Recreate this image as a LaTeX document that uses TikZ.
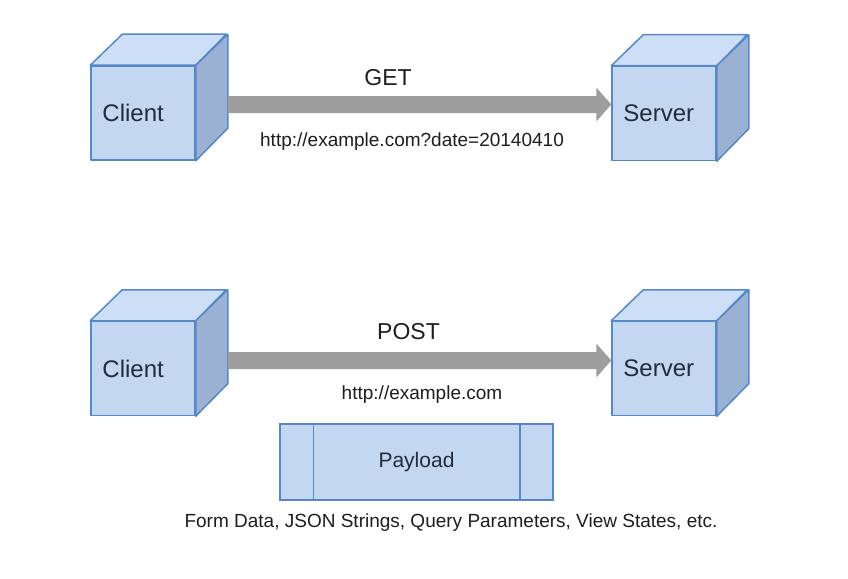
\documentclass[tikz,border=0pt]{standalone}
\usepackage{fontspec}
\setmainfont{Liberation Sans}
\usetikzlibrary{calc}
\definecolor{cubefront}{RGB}{195,215,241}
\definecolor{cubetop}{RGB}{205,223,246}
\definecolor{cubeside}{RGB}{155,177,212}
\definecolor{cubeborder}{RGB}{86,136,200}
\definecolor{arrowgray}{RGB}{158,158,158}
\definecolor{labeltext}{RGB}{35,42,58}
\definecolor{plaintext}{RGB}{30,30,30}
\tikzset{
  frontface/.style={draw=cubeborder, fill=cubefront, line width=1.5pt, line join=round,
    minimum width=104pt, minimum height=94pt, inner sep=0pt},
  topface/.style={draw=cubeborder, fill=cubetop, line width=1.5pt, line join=round},
  sideface/.style={draw=cubeborder, fill=cubeside, line width=1.5pt, line join=round},
  cubelabel/.style={text=labeltext, font=\fontsize{24}{28}\selectfont, inner sep=0pt, anchor=west},
  methodlabel/.style={text=plaintext, font=\fontsize{23}{27}\selectfont, inner sep=0pt},
  urllabel/.style={text=plaintext, font=\fontsize{19}{23}\selectfont, inner sep=0pt},
  arrowfill/.style={fill=arrowgray},
  payloadbox/.style={draw=cubeborder, fill=cubefront, line width=1.5pt,
    minimum width=273pt, minimum height=76pt, inner sep=0pt},
}
\newcommand\drawcube[3]{%
  \node[frontface] (#1) at (#2) {};
  \filldraw[topface] (#1.north west) -- ++(32,-31) -- ++(104,0) -- (#1.north east) -- cycle;
  \filldraw[sideface] (#1.north east) -- ++(32,-31) -- ++(0,94) -- (#1.south east) -- cycle;
  \node[cubelabel] (#1-t) at ([xshift=12pt]#1.west) {#3};
}
\newcommand\fatarrow[2]{%
  \fill[arrowfill] ($(#1)+(0,-8.5)$) -- ($(#2)+(-15,-8.5)$) -- ($(#2)+(-15,-17)$) -- (#2)
    -- ($(#2)+(-15,17)$) -- ($(#2)+(-15,8.5)$) -- ($(#1)+(0,8.5)$) -- cycle;
}
\begin{document}
\begin{tikzpicture}[x=1pt,y=-1pt]
\useasboundingbox[fill=white] (0,0) rectangle (848,578);

% GET row
\drawcube{c1}{143,113}{Client}
\drawcube{s1}{664,113.5}{Server}
\coordinate (a1s) at ($(c1.east)+(32,-8.5)$);
\coordinate (a1e) at ($(s1.west)+(0,-9)$);
\fatarrow{a1s}{a1e}
\node[methodlabel] (get) at (388,78) {GET};
\node[urllabel] (url1) at (412,142) {http://example.com?date=20140410};

% POST row
\drawcube{c2}{143,368.5}{Client}
\drawcube{s2}{664,368.5}{Server}
\coordinate (a2s) at ($(c2.east)+(32,-8)$);
\coordinate (a2e) at ($(s2.west)+(0,-8)$);
\fatarrow{a2s}{a2e}
\node[methodlabel] (post) at (408.5,332) {POST};
\node[urllabel] (url2) at (422,395) {http://example.com};

% Payload
\node[payloadbox] (pl) at (416.5,462) {};
\draw[cubeborder, line width=1.5pt] ([xshift=34pt]pl.north west) -- ([xshift=34pt]pl.south west);
\draw[cubeborder, line width=1.5pt] ([xshift=-34pt]pl.north east) -- ([xshift=-34pt]pl.south east);
\node[text=labeltext, font=\fontsize{21}{25}\selectfont, inner sep=0pt] (pltext) at (pl.center) {Payload};
\node[urllabel] (desc) at (451,523) {Form Data, JSON Strings, Query Parameters, View States, etc.};
\end{tikzpicture}
\end{document}
